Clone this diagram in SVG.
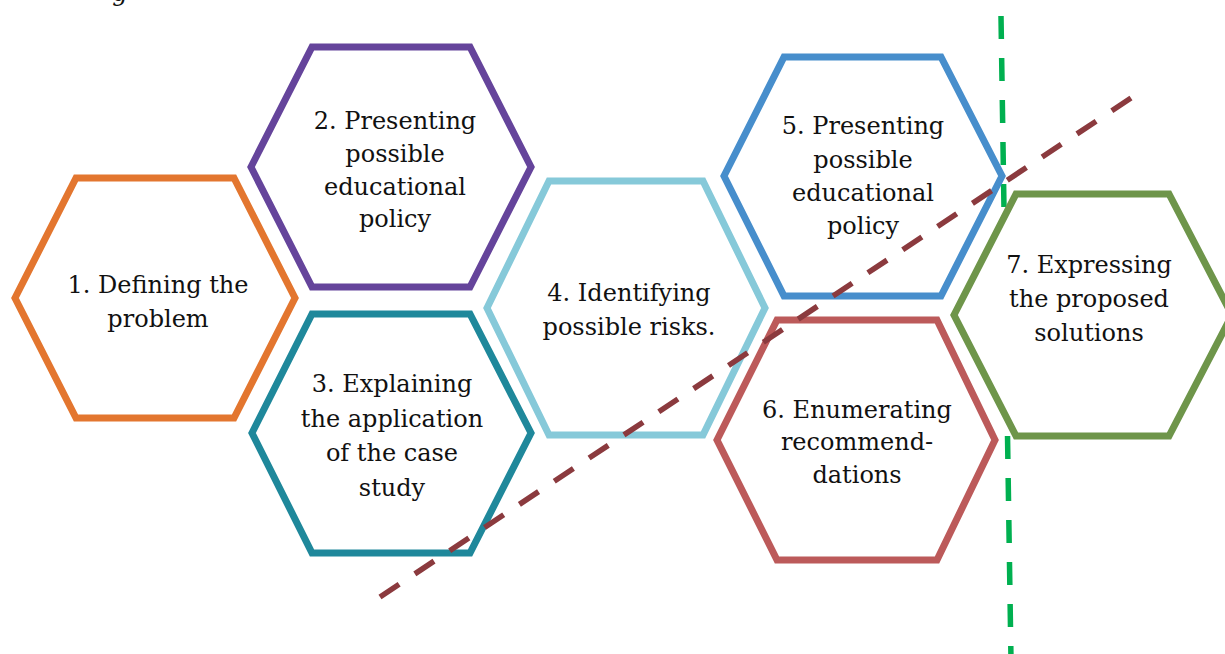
<svg xmlns="http://www.w3.org/2000/svg" width="1225" height="654" viewBox="0 0 1225 654">
  <style>
    .hex { fill: #ffffff; stroke-width: 7; stroke-linejoin: miter; }
    .lbl { font-family: "DejaVu Serif", "Liberation Serif", serif; font-size: 24px; fill: #111111; text-anchor: middle; }
    .dash { fill: none; stroke-width: 5.5; }
  </style>

  <rect x="0" y="0" width="1225" height="654" fill="#ffffff"/>

  <!-- caption descender left over at the top edge -->
  <text x="120" y="0.5" font-family="DejaVu Serif, serif" font-style="italic" font-size="24" fill="#111111" text-anchor="middle">g</text>

  <!-- vertical boundary line, runs behind the hexagons -->
  <g id="boundary-line">
    <line class="dash" x1="1001" y1="16" x2="1011" y2="660" stroke="#00B050" stroke-dasharray="23 19"/>
  </g>

  <g id="step1">
    <polygon class="hex" stroke="#E3762F" points="15,298 76,178 234,178 295,298 234,418 76,418"/>
    <text class="lbl" x="158" y="293">1. Defining the</text>
    <text class="lbl" x="158" y="327">problem</text>
  </g>

  <g id="step2">
    <polygon class="hex" stroke="#65449B" points="251,167 312,47 470,47 531,167 470,287 312,287"/>
    <text class="lbl" x="395" y="129">2. Presenting</text>
    <text class="lbl" x="395" y="162">possible</text>
    <text class="lbl" x="395" y="195">educational</text>
    <text class="lbl" x="395" y="227">policy</text>
  </g>

  <g id="step3">
    <polygon class="hex" stroke="#1F889B" points="252,433 312,314 470,314 531,433 470,553 312,553"/>
    <text class="lbl" x="392" y="392">3. Explaining</text>
    <text class="lbl" x="392" y="427">the application</text>
    <text class="lbl" x="392" y="461">of the case</text>
    <text class="lbl" x="392" y="496">study</text>
  </g>

  <g id="step4">
    <polygon class="hex" stroke="#86C9D9" points="487,308 549,181 703,181 765,308 703,435 549,435"/>
    <text class="lbl" x="629" y="301">4. Identifying</text>
    <text class="lbl" x="629" y="335">possible risks.</text>
  </g>

  <g id="step5">
    <polygon class="hex" stroke="#478ECC" points="724,176 784,57 941,57 1002,176 941,296 784,296"/>
    <text class="lbl" x="863" y="134">5. Presenting</text>
    <text class="lbl" x="863" y="168">possible</text>
    <text class="lbl" x="863" y="201">educational</text>
    <text class="lbl" x="863" y="234">policy</text>
  </g>

  <g id="step6">
    <polygon class="hex" stroke="#BC5A5A" points="717,440 777,320 937,320 995,440 937,560 777,560"/>
    <text class="lbl" x="857" y="418">6. Enumerating</text>
    <text class="lbl" x="857" y="450">recommend-</text>
    <text class="lbl" x="857" y="483">dations</text>
  </g>

  <g id="step7">
    <polygon class="hex" stroke="#6E954A" points="954,315 1016,194 1169,194 1232,315 1169,436 1016,436"/>
    <text class="lbl" x="1089" y="273">7. Expressing</text>
    <text class="lbl" x="1089" y="307">the proposed</text>
    <text class="lbl" x="1089" y="341">solutions</text>
  </g>

  <!-- diagonal trend line, drawn over the hexagons; dash spacing set so both ends finish on a dash -->
  <g id="connectors">
    <line class="dash" x1="380" y1="597" x2="1131" y2="98" stroke="#8B3A3E" stroke-dasharray="23 18.84"/>
  </g>
</svg>
